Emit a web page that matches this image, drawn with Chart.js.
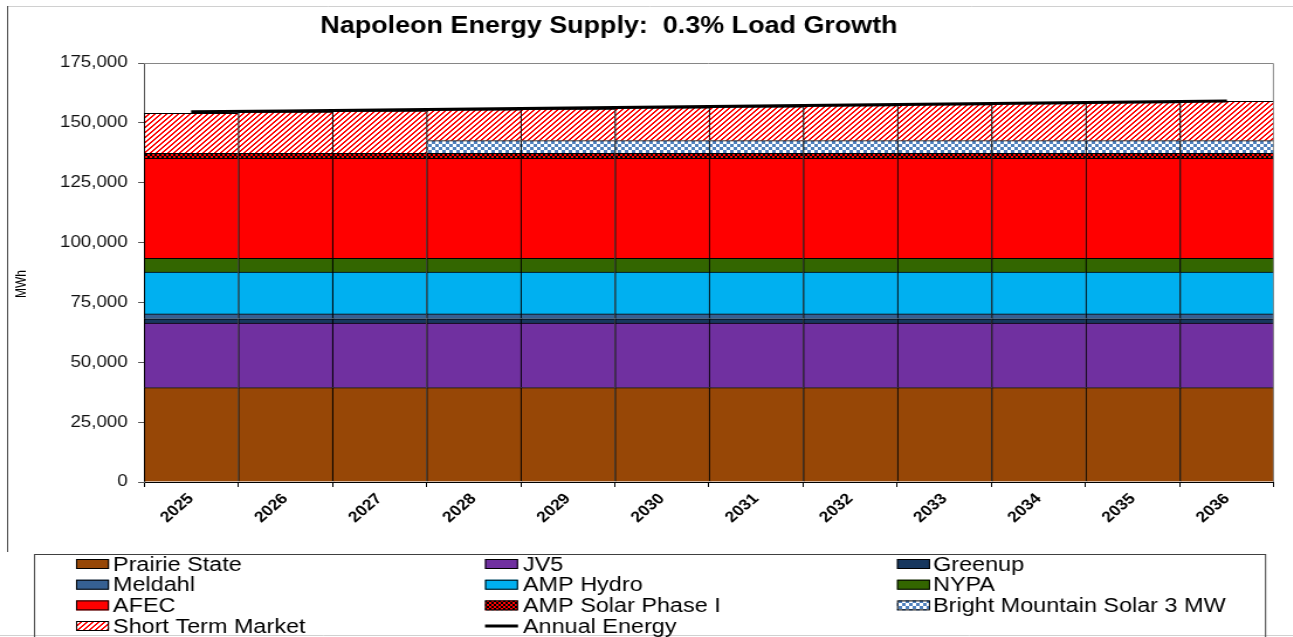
<!DOCTYPE html>
<html>
<head>
<meta charset="utf-8">
<title>Napoleon Energy Supply</title>
<script src="https://cdn.jsdelivr.net/npm/chart.js@4.4.1/dist/chart.umd.min.js"></script>
<style>
  html, body { margin: 0; padding: 0; background: #fff; overflow: hidden; }
  /* the reference picture is stretched sideways, so the canvas is too */
  #chart { display: block; transform: scaleX(1.17); transform-origin: 0 0; }
</style>
</head>
<body>
<canvas id="chart" width="1105" height="637"></canvas>
<script>
// Data (MWh)
const years = ["2025", "2026", "2027", "2028", "2029", "2030", "2031", "2032", "2033", "2034", "2035", "2036"];
const prairieState = [39400, 39400, 39400, 39400, 39400, 39400, 39400, 39400, 39400, 39400, 39400, 39400];
const jv5 = [27000, 27000, 27000, 27000, 27000, 27000, 27000, 27000, 27000, 27000, 27000, 27000];
const greenup = [1800, 1800, 1800, 1800, 1800, 1800, 1800, 1800, 1800, 1800, 1800, 1800];
const meldahl = [2000, 2000, 2000, 2000, 2000, 2000, 2000, 2000, 2000, 2000, 2000, 2000];
const ampHydro = [17500, 17500, 17500, 17500, 17500, 17500, 17500, 17500, 17500, 17500, 17500, 17500];
const nypa = [5700, 5700, 5700, 5700, 5700, 5700, 5700, 5700, 5700, 5700, 5700, 5700];
const afec = [41800, 41800, 41800, 41800, 41800, 41800, 41800, 41800, 41800, 41800, 41800, 41800];
const ampSolar = [2100, 2100, 2100, 2100, 2100, 2100, 2100, 2100, 2100, 2100, 2100, 2100];
const brightMountain = [null, null, null, 5300, 5300, 5300, 5300, 5300, 5300, 5300, 5300, 5300];
const shortTermMarket = [16700, 17200, 17600, 12800, 13200, 13700, 14100, 14600, 15000, 15500, 15900, 16400];
const annualEnergy = [154600, 155000, 155400, 155800, 156200, 156600, 157000, 157500, 157900, 158300, 158700, 159100];

const chartTitle = "Napoleon Energy Supply:  0.3% Load Growth";
const yAxisTitle = "MWh";

// Layout helpers
const S = 1.17;
const W = 1105;
const H = 637;
const rx = (x) => x / S; // picture x -> canvas x
const FONT = "Arial, 'Liberation Sans', sans-serif";

Chart.defaults.font.family = FONT;
Chart.defaults.color = "#000";

const canvas = document.getElementById("chart");
const ctx = canvas.getContext("2d");

function makePattern(size, paint) {
  const c = document.createElement("canvas");
  c.width = size;
  c.height = size;
  const g = c.getContext("2d");
  const img = g.createImageData(size, size);
  for (let y = 0; y < size; y++) {
    for (let x = 0; x < size; x++) {
      const col = paint(x, y);
      const k = (y * size + x) * 4;
      img.data[k] = col[0];
      img.data[k + 1] = col[1];
      img.data[k + 2] = col[2];
      img.data[k + 3] = 255;
    }
  }
  g.putImageData(img, 0, 0);
  return ctx.createPattern(c, "repeat");
}

const RED = [255, 0, 0];
const WHITE = [255, 255, 255];
const BLACK = [0, 0, 0];
const BLUE = [79, 129, 189];

const stripes = makePattern(5, (x, y) => ((x + y) % 5 < 2 ? RED : WHITE));
const redChecker = makePattern(4, (x, y) => (((x >> 1) + (y >> 1)) % 2 ? BLACK : RED));
const blueChecker = makePattern(6, (x, y) => ((Math.floor(x / 3) + Math.floor(y / 3)) % 2 ? WHITE : BLUE));

function bar(label, data, color) {
  return {
    type: "bar",
    label: label,
    data: data,
    backgroundColor: color,
    borderColor: "#000",
    borderWidth: { top: 1, left: 1.2, right: 0, bottom: 0 },
    borderSkipped: false,
    categoryPercentage: 1,
    barPercentage: 1,
    stack: "supply",
    order: 1,
  };
}

const decor = {
  id: "decor",
  afterDraw(chart) {
    const c = chart.ctx;
    const a = chart.chartArea;
    c.save();

    // plot area top / right edge
    c.strokeStyle = "#868686";
    c.lineWidth = 1;
    c.beginPath();
    c.moveTo(a.left, a.top + 0.5);
    c.lineTo(a.right - 0.5, a.top + 0.5);
    c.lineTo(a.right - 0.5, a.bottom);
    c.stroke();

    // outer frame
    c.strokeStyle = "#d0d0d0";
    c.beginPath();
    c.moveTo(rx(7), 6.5);
    c.lineTo(W, 6.5);
    c.moveTo(0, 635.5);
    c.lineTo(W, 635.5);
    c.stroke();
    c.strokeStyle = "#404040";
    c.beginPath();
    c.moveTo(rx(7) + 0.5, 6);
    c.lineTo(rx(7) + 0.5, 552);
    c.stroke();

    // title
    c.fillStyle = "#000";
    c.font = "bold 23px " + FONT;
    c.textAlign = "center";
    c.textBaseline = "middle";
    c.fillText(chartTitle, rx(609), 27);

    // y axis title
    c.save();
    c.translate(rx(22), 284);
    c.rotate(-Math.PI / 2);
    c.font = "12px " + FONT;
    c.fillText(yAxisTitle, 0, 0);
    c.restore();

    // legend box
    c.strokeStyle = "#404040";
    c.strokeRect(rx(34) + 0.5, 554.5, rx(1265 - 34), 90);

    const swatchX = [76, 485, 897];
    const textX = [113, 523, 933];
    const rowY = [564, 584.7, 605.4, 626];
    c.font = "20px " + FONT;
    c.textAlign = "left";
    chart.data.datasets.forEach((ds, i) => {
      const col = i % 3;
      const y = rowY[Math.floor(i / 3)];
      const x = rx(swatchX[col]);
      const w = rx(33);
      if (ds.type === "line") {
        c.strokeStyle = "#000";
        c.lineWidth = 3;
        c.beginPath();
        c.moveTo(x, y);
        c.lineTo(x + w, y);
        c.stroke();
      } else {
        c.fillStyle = ds.backgroundColor;
        c.fillRect(x, y - 5, w, 10);
        c.strokeStyle = "#000";
        c.lineWidth = 1;
        c.strokeRect(x + 0.5, y - 4.5, w - 1, 9);
      }
      c.fillStyle = "#000";
      c.fillText(ds.label, rx(textX[col]), y + 1);
    });

    c.restore();
  },
};

new Chart(canvas, {
  data: {
    labels: years,
    datasets: [
      bar("Prairie State", prairieState, "#974706"),
      bar("JV5", jv5, "#7030A0"),
      bar("Greenup", greenup, "#17375E"),
      bar("Meldahl", meldahl, "#366092"),
      bar("AMP Hydro", ampHydro, "#00B0F0"),
      bar("NYPA", nypa, "#336600"),
      bar("AFEC", afec, "#FF0000"),
      bar("AMP Solar Phase I", ampSolar, redChecker),
      bar("Bright Mountain Solar 3 MW", brightMountain, blueChecker),
      bar("Short Term Market", shortTermMarket, stripes),
      {
        type: "line",
        label: "Annual Energy",
        data: annualEnergy,
        borderColor: "#000",
        borderWidth: 3,
        pointRadius: 0,
        tension: 0,
        fill: false,
        stack: "load",
        order: 0,
      },
    ],
  },
  options: {
    responsive: false,
    animation: false,
    layout: {
      padding: { top: 63, right: W - rx(1274), left: 0, bottom: 0 },
    },
    plugins: {
      legend: { display: false },
      title: { display: false },
      tooltip: { enabled: false },
    },
    scales: {
      x: {
        stacked: true,
        afterFit: (s) => {
          s.height = H - 482;
        },
        grid: {
          offset: true,
          drawOnChartArea: false,
          tickLength: 5,
          color: "#000",
        },
        border: { color: "#000" },
        ticks: {
          font: { size: 15, weight: "bold" },
          color: "#000",
          maxRotation: 45,
          minRotation: 45,
          padding: 3,
        },
      },
      y: {
        stacked: true,
        min: 0,
        max: 175000,
        afterFit: (s) => {
          s.width = rx(144);
        },
        grid: {
          drawOnChartArea: false,
          tickLength: 5,
          color: "#595959",
        },
        border: { color: "#595959" },
        ticks: {
          stepSize: 25000,
          font: { size: 16 },
          color: "#111",
          padding: 9,
          callback: (v) => v.toLocaleString("en-US"),
        },
      },
    },
  },
  plugins: [decor],
});
</script>
</body>
</html>
